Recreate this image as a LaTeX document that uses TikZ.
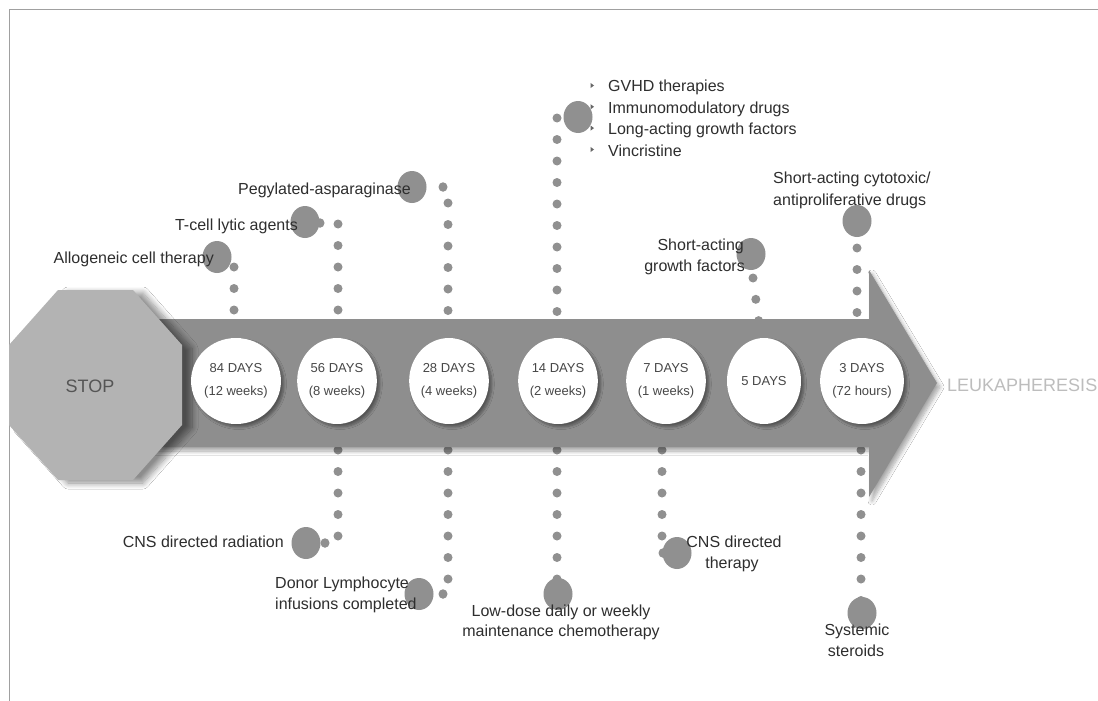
\documentclass[tikz,border=0pt]{standalone}
\usepackage{fontspec}
\setmainfont{Liberation Sans}
\usetikzlibrary{shapes.geometric,shadows.blur}
\definecolor{arrowc}{HTML}{8E8E8E}
\definecolor{dotc}{HTML}{909090}
\definecolor{octc}{HTML}{B3B3B3}
\definecolor{textc}{HTML}{2E2E2E}
\definecolor{daytextc}{HTML}{474747}
\definecolor{stopc}{HTML}{555555}
\definecolor{leukc}{HTML}{BDBDBD}
\definecolor{framec}{HTML}{A0A0A0}
\definecolor{bulc}{HTML}{666666}
\tikzset{
  dotline/.style={draw=dotc, line width=9pt, line cap=round, dash pattern=on 0pt off 21.5pt},
  bigdot/.style={ellipse, fill=dotc, minimum width=29pt, minimum height=32pt, inner sep=0pt},
  smalldot/.style={ellipse, fill=dotc, minimum width=9pt, minimum height=9.5pt, inner sep=0pt},
  lbl/.style={text=textc, font=\fontsize{16}{19}\selectfont, inner sep=0pt},
  daybox/.style={ellipse, fill=white, minimum width=74pt, minimum height=86pt, inner sep=0pt,
    align=center, text=daytextc, font=\fontsize{13}{22.5}\selectfont,
    blur shadow={shadow xshift=3pt, shadow yshift=-3pt, shadow blur radius=2.5pt, shadow blur steps=6, shadow opacity=40}},
  bul/.style={fill=bulc}
}
\begin{document}
\begin{tikzpicture}[x=1pt,y=-1pt]
\useasboundingbox (0,0) rectangle (1098,701);
\fill[white] (0,0) rectangle (1098,701);
\draw[framec, line width=1pt] (9.5,701) -- (9.5,9.5) -- (1098,9.5);

% ---------- dotted connectors (top) ----------
\coordinate (a1) at (234,267);   \coordinate (b1) at (234,311.6);
\coordinate (a2) at (338,224);   \coordinate (b2) at (338,311.6);
\coordinate (a3) at (448,203);   \coordinate (b3) at (448,311.6);
\coordinate (a4) at (557,118);   \coordinate (b4) at (557,312);
\coordinate (a6) at (753,278);   \coordinate (b6) at (758.7,321.2);
\coordinate (a7) at (857,248);   \coordinate (b7) at (857,313);
% ---------- dotted connectors (bottom) ----------
\coordinate (p2) at (338,450);   \coordinate (q2) at (338,536.6);
\coordinate (p3) at (448,450);   \coordinate (q3) at (448,579.6);
\coordinate (p4) at (557,450);   \coordinate (q4) at (557,579.6);
\coordinate (p5) at (662,450);   \coordinate (q5) at (662,536.6);
\coordinate (p7) at (861,450);   \coordinate (q7) at (861,600.6);

\foreach \s/\e in {a1/b1,a2/b2,a3/b3,a4/b4,a6/b6,a7/b7,p2/q2,p3/q3,p4/q4,p5/q5,p7/q7}
  \draw[dotline] (\s) -- (\e);

% ---------- big dots and small joint dots ----------
\node[bigdot] (d1) at (217,257) {};
\node[bigdot] (d2) at (305,222) {};
\node[smalldot] (s2) at (320,223) {};
\node[bigdot] (d3) at (412,187) {};
\node[smalldot] (s3) at (443,187) {};
\node[bigdot] (d4) at (578,117) {};
\node[bigdot] (d6) at (751,254) {};
\node[bigdot] (d7) at (857,221) {};
\node[bigdot] (e2) at (306,543) {};
\node[smalldot] (t2) at (325,543) {};
\node[bigdot] (e3) at (419,594) {};
\node[smalldot] (t3) at (443,594) {};
\node[bigdot] (e4) at (558,594) {};
\node[bigdot] (e5) at (677,553) {};
\node[smalldot] (t5) at (663,553) {};
\node[bigdot] (e7) at (862,613) {};

% ---------- arrow ----------
\fill[arrowc, blur shadow={shadow xshift=3pt, shadow yshift=-4pt, shadow blur radius=4pt, shadow blur steps=8, shadow opacity=35}]
  (150,319) -- (869,319) -- (869,270) -- (937,383) -- (869,497) -- (869,447) -- (150,447) -- cycle;

% ---------- stop octagon ----------
\fill[octc, blur shadow={shadow xshift=10pt, shadow yshift=-3pt, shadow blur radius=6pt, shadow blur steps=10, shadow opacity=45}]
  (58,290) -- (133,290) -- (182,345) -- (182,425) -- (133,480) -- (58,480) -- (9,425) -- (9,345) -- cycle;
\node[text=stopc, font=\fontsize{18}{21}\selectfont, inner sep=0pt] (stop) at (90,386) {STOP};

% ---------- day circles ----------
\node[daybox] (c84) at (236,381) {84 DAYS\\(12 weeks)};
\node[daybox] (c56) at (337,381) {56 DAYS\\(8 weeks)};
\node[daybox] (c28) at (449,381) {28 DAYS\\(4 weeks)};
\node[daybox] (c14) at (558,381) {14 DAYS\\(2 weeks)};
\node[daybox] (c7)  at (666,381) {7 DAYS\\(1 weeks)};
\node[daybox] (c5)  at (764,381) {5 DAYS};
\node[daybox] (c3)  at (862,381) {3 DAYS\\(72 hours)};

\node[text=leukc, font=\fontsize{18}{21}\selectfont, inner sep=0pt, anchor=base west] (leuk) at (947,391.5) {LEUKAPHERESIS};

% ---------- top labels ----------
\node[lbl, anchor=base east] (l1) at (214,263) {Allogeneic cell therapy};
\node[lbl, anchor=base east] (l2) at (298,230) {T-cell lytic agents};
\node[lbl, anchor=base west] (l3) at (238,194) {Pegylated-asparaginase};
\node[lbl, anchor=base west] (l4a) at (608,92) {GVHD therapies};
\node[lbl, anchor=base west] (l4b) at (608,113.3) {Immunomodulatory drugs};
\node[lbl, anchor=base west] (l4c) at (608,134.6) {Long-acting growth factors};
\node[lbl, anchor=base west] (l4d) at (608,156) {Vincristine};
\foreach \c in {85.5,106.8,128.1,149.5}
  \fill[bul] (590.5,\c-2.6) -- (594,\c) -- (590.5,\c+2.6) -- cycle;
\node[lbl, anchor=base east] (l6a) at (744,250) {Short-acting};
\node[lbl, anchor=base east] (l6b) at (745,271) {growth factors};
\node[lbl, anchor=base west] (l7a) at (773,183) {Short-acting cytotoxic/};
\node[lbl, anchor=base west] (l7b) at (773,205) {antiproliferative drugs};

% ---------- bottom labels ----------
\node[lbl, anchor=base east] (m2) at (284,547.3) {CNS directed radiation};
\node[lbl, anchor=base west] (m3a) at (275,588.3) {Donor Lymphocyte};
\node[lbl, anchor=base west] (m3b) at (275,609.5) {infusions completed};
\node[lbl, anchor=base] (m4a) at (561,616) {Low-dose daily or weekly};
\node[lbl, anchor=base] (m4b) at (561,636.5) {maintenance chemotherapy};
\node[lbl, anchor=base] (m5a) at (734,547.3) {CNS directed};
\node[lbl, anchor=base] (m5b) at (732,568.5) {therapy};
\node[lbl, anchor=base] (m7a) at (857,635) {Systemic};
\node[lbl, anchor=base] (m7b) at (856,656.7) {steroids};
\end{tikzpicture}
\end{document}
